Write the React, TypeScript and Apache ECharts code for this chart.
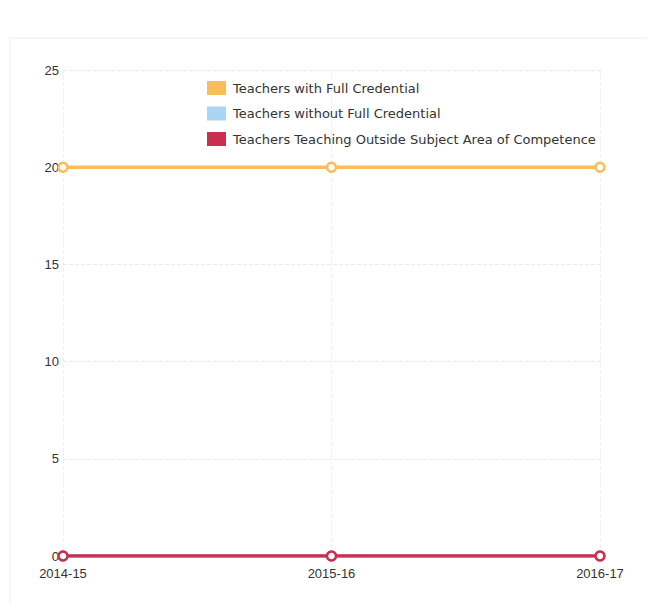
import React, { useEffect, useRef } from "react";
import * as echarts from "echarts";

const categories = ["2014-15", "2015-16", "2016-17"];
const fullCredential = [20, 20, 20];
const withoutCredential = [0, 0, 0];
const outsideSubject = [0, 0, 0];
const seriesNames = [
  "Teachers with Full Credential",
  "Teachers without Full Credential",
  "Teachers Teaching Outside Subject Area of Competence",
];
const colors = ["#f9bd5b", "#a9d4f5", "#c9304f"];

export default function App() {
  const ref = useRef<HTMLDivElement>(null);
  useEffect(() => {
    if (!ref.current) return;
    const chart = echarts.init(ref.current, null, { renderer: "svg" });
    const mk = (name: string, data: number[], color: string, z: number) => ({
      name,
      type: "line",
      data,
      z,
      symbol: "circle",
      symbolSize: 9,
      lineStyle: { width: 3.5, color },
      itemStyle: { color: "#fff", borderColor: color, borderWidth: 2.5 },
    });
    chart.setOption({
      animation: false,
      backgroundColor: "#fff",
      color: colors,
      graphic: [
        {
          type: "rect",
          shape: { x: 10, y: 38, width: 660, height: 568 },
          style: { fill: "none", stroke: "#ececec", lineWidth: 1 },
          silent: true,
        },
      ],
      legend: {
        orient: "vertical",
        left: 202,
        top: 76,
        itemWidth: 19,
        itemHeight: 14,
        itemGap: 11.5,
        icon: "rect",
        textStyle: { fontSize: 13, color: "#333", fontFamily: "DejaVu Sans", padding: [0, 0, 0, 2] },
        data: seriesNames.map((n, i) => ({
          name: n,
          itemStyle: { color: colors[i], borderColor: colors[i], borderWidth: 0 },
        })),
      },
      grid: { left: 63, right: 55, top: 70, bottom: 56, containLabel: false },
      xAxis: {
        type: "category",
        data: categories,
        boundaryGap: false,
        axisLine: { show: false },
        axisTick: { show: false },
        axisLabel: {
          color: "#333",
          fontSize: 13,
          margin: 11,
          fontFamily: "Liberation Sans Narrow, Liberation Sans",
        },
        splitLine: { show: true, lineStyle: { color: "#f0f0f0", type: "dashed" } },
      },
      yAxis: {
        type: "value",
        min: 0,
        max: 25,
        interval: 5,
        axisLine: { show: false },
        axisTick: { show: false },
        axisLabel: {
          color: "#333",
          fontSize: 13,
          margin: 4,
          fontFamily: "Liberation Sans Narrow, Liberation Sans",
        },
        splitLine: { show: true, lineStyle: { color: "#ececec", type: "dashed" } },
      },
      series: [
        mk(seriesNames[0], fullCredential, colors[0], 3),
        mk(seriesNames[1], withoutCredential, colors[1], 2),
        mk(seriesNames[2], outsideSubject, colors[2], 4),
      ],
    });
    return () => chart.dispose();
  }, []);
  return <div ref={ref} style={{ width: 655, height: 612, margin: -8 }} />;
}
